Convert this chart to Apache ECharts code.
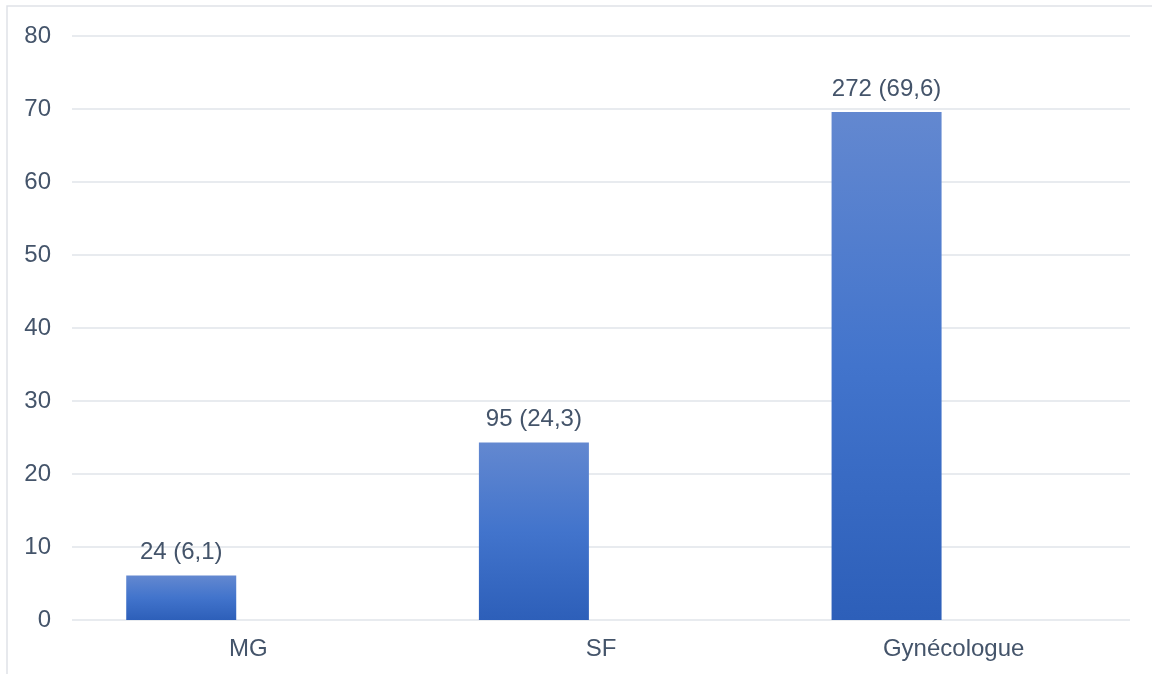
<!DOCTYPE html>
<html>
<head>
<meta charset="utf-8">
<script src="https://cdn.jsdelivr.net/npm/echarts@6/dist/echarts.min.js"></script>
<style>
    html, body { margin: 0; padding: 0; background: #fff; }
    #chart { width: 1152px; height: 674px; }
</style>
</head>
<body>
<div id="chart"></div>
<script>
    var categories = ['MG', 'SF', 'Gynécologue'];
    var percents = [6.1, 24.3, 69.6];
    var counts = [24, 95, 272];
    var emptySeries = [null, null, null];

    var textColor = '#44546a';
    var font = 'Liberation Sans, Arial, sans-serif';

    var chart = echarts.init(document.getElementById('chart'));
    chart.setOption({
        animation: false,
        // thin frame along the top and left edge
        graphic: [{
            type: 'rect',
            shape: { x: 7, y: 6, width: 1200, height: 720 },
            style: { fill: 'none', stroke: '#dfe2e7', lineWidth: 1.5 }
        }],
        grid: { left: 72, right: 22, top: 36, bottom: 54 },
        xAxis: {
            type: 'category',
            data: categories,
            axisLine: { show: false },
            axisTick: { show: false },
            axisLabel: { color: textColor, fontSize: 24, fontFamily: font, margin: 17 }
        },
        yAxis: {
            type: 'value',
            min: 0,
            max: 80,
            interval: 10,
            axisLine: { show: false },
            axisTick: { show: false },
            axisLabel: { color: textColor, fontSize: 24, fontFamily: font, margin: 21 },
            splitLine: { lineStyle: { color: '#e1e4ea', width: 1.5 } }
        },
        series: [{
            type: 'bar',
            data: percents,
            barWidth: 110,
            barGap: '22%',
            itemStyle: {
                color: new echarts.graphic.LinearGradient(0, 0, 0, 1, [
                    { offset: 0, color: '#6388d0' },
                    { offset: 0.5, color: '#4274cc' },
                    { offset: 1, color: '#2d5fb9' }
                ])
            },
            label: {
                show: true,
                position: 'top',
                distance: 11,
                color: textColor,
                fontSize: 24,
                fontFamily: font,
                formatter: function (p) {
                    return counts[p.dataIndex] + ' (' + String(percents[p.dataIndex]).replace('.', ',') + ')';
                }
            }
        }, {
            type: 'bar',
            data: emptySeries,
            barWidth: 110
        }]
    });
</script>
</body>
</html>
